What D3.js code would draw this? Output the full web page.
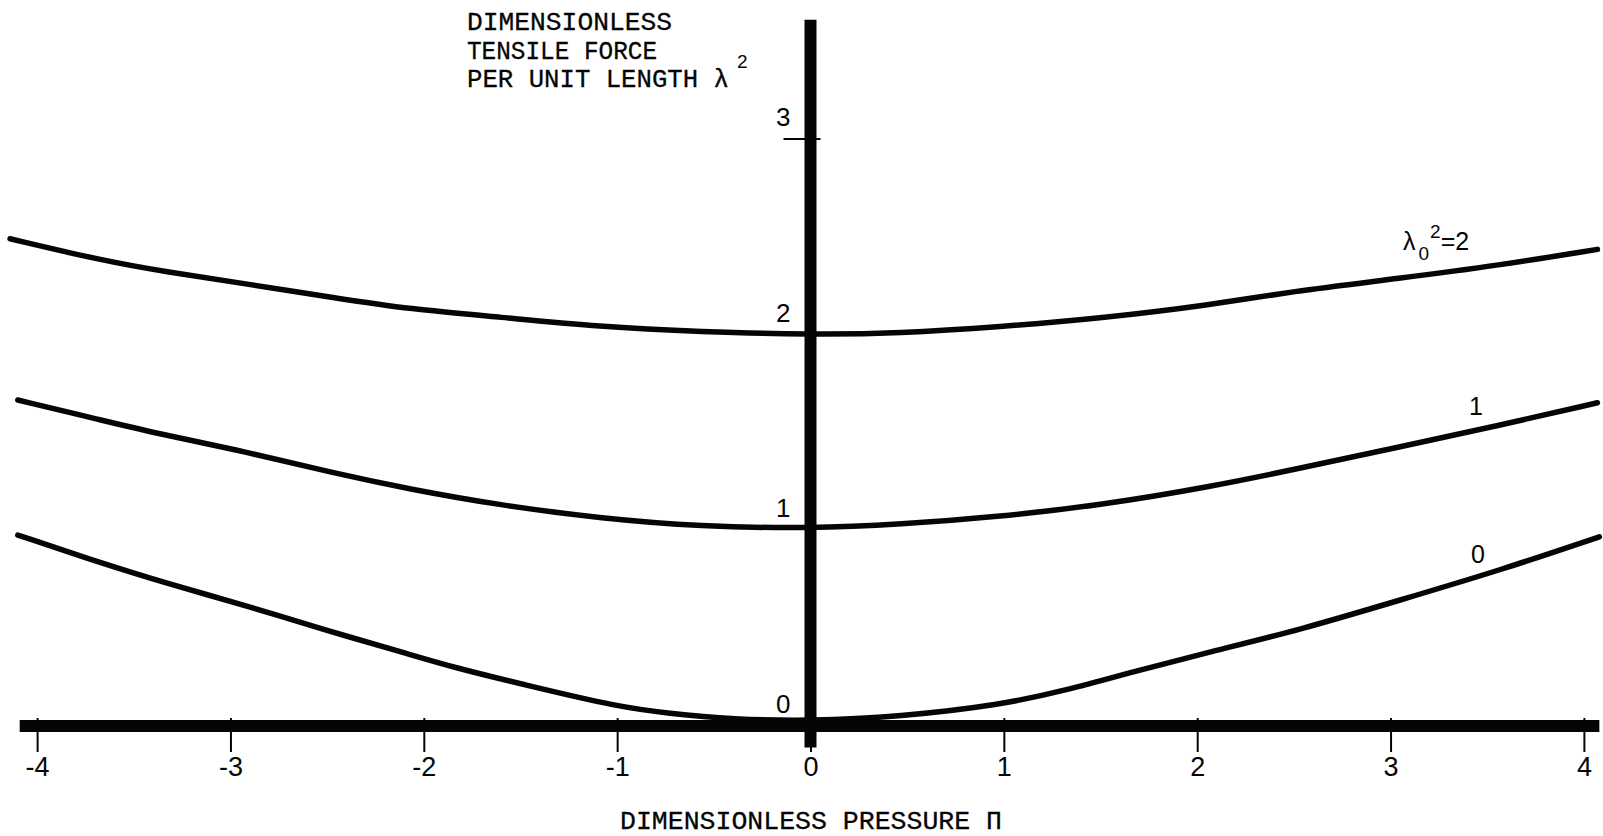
<!DOCTYPE html>
<html>
<head>
<meta charset="utf-8">
<script src="https://cdn.jsdelivr.net/npm/d3@7"></script>
<style>
  html, body { margin: 0; padding: 0; background: #fff; }
  svg { display: block; }
</style>
</head>
<body>
<svg id="chart" width="1603" height="836"></svg>
<script>
// ---- data ----
const xTicks = [-4, -3, -2, -1, 0, 1, 2, 3, 4];
const yTickLabels = [0, 1, 2, 3];
const yMarkedTick = [3];

const pressure2 = [-4.14, -3.67, -3.33, -2.92, -2.47, -2.07, -1.61, -1.09, -0.57, 0, 0.46, 0.98, 1.50, 2.07, 2.48, 3.05, 3.57, 4.07];
const tension2  = [2.49, 2.38, 2.32, 2.26, 2.19, 2.13, 2.09, 2.04, 2.015, 2.00, 2.007, 2.04, 2.084, 2.152, 2.22, 2.288, 2.356, 2.436];

const pressure1 = [-4.10, -3.67, -3.39, -2.92, -2.47, -2.07, -1.61, -1.09, -0.57, 0, 0.46, 0.98, 1.50, 2.07, 2.53, 3.05, 3.57, 4.07];
const tension1  = [1.666, 1.564, 1.497, 1.402, 1.293, 1.210, 1.129, 1.062, 1.019, 1.01, 1.03, 1.07, 1.129, 1.223, 1.317, 1.427, 1.538, 1.652];

const pressure0 = [-4.10, -3.69, -3.33, -2.90, -2.54, -2.07, -1.86, -1.44, -1.00, -0.74, -0.40, 0, 0.46, 0.98, 1.33, 1.67, 2.07, 2.53, 3.05, 3.57, 4.08];
const tension0  = [0.976, 0.840, 0.729, 0.610, 0.499, 0.365, 0.303, 0.201, 0.099, 0.065, 0.034, 0.025, 0.048, 0.107, 0.184, 0.278, 0.380, 0.491, 0.644, 0.797, 0.967];

const xAxisExtent = [-4.09, 4.08];
const yAxisExtent = [-0.11, 3.61];

// ---- drawing ----
const svg = d3.select("#chart");
const x = d3.scaleLinear().domain([-4, 4]).range([37.1, 1583.9]);
const y = d3.scaleLinear().domain([0, 3]).range([726, 139]);

const ink = "#050505";
const sans = "'Liberation Sans', Arial, sans-serif";
const mono = "'Liberation Mono', 'Courier New', monospace";

// curves
const line = d3.line().x(d => x(d[0])).y(d => y(d[1])).curve(d3.curveBasis);
const series = [
  d3.zip(pressure2, tension2),
  d3.zip(pressure1, tension1),
  d3.zip(pressure0, tension0)
];
svg.append("g").selectAll("path").data(series).join("path")
  .attr("d", line)
  .attr("fill", "none")
  .attr("stroke", ink)
  .attr("stroke-width", 5.5)
  .attr("stroke-linecap", "round")
  .attr("stroke-linejoin", "round");

// x-axis ticks and labels
const xAxis = d3.axisBottom(x).tickValues(xTicks).tickSize(34).tickPadding(5).tickFormat(d => d < 0 ? "-" + Math.abs(d) : String(d));
const gx = svg.append("g").attr("transform", `translate(0,${y(0) - 8})`).call(xAxis);
gx.select(".domain").remove();
gx.selectAll(".tick line").attr("stroke", ink).attr("stroke-width", 2);
gx.selectAll(".tick text").attr("fill", ink).attr("font-family", sans).attr("font-size", 27);

// thick horizontal axis
svg.append("line")
  .attr("x1", x(xAxisExtent[0])).attr("x2", x(xAxisExtent[1]))
  .attr("y1", y(0)).attr("y2", y(0))
  .attr("stroke", ink).attr("stroke-width", 12);

// thick vertical axis
svg.append("line")
  .attr("x1", x(0)).attr("x2", x(0))
  .attr("y1", y(yAxisExtent[1])).attr("y2", y(yAxisExtent[0]))
  .attr("stroke", ink).attr("stroke-width", 12);

// y tick mark at 3
svg.append("g").selectAll("line").data(yMarkedTick).join("line")
  .attr("x1", x(0) - 27).attr("x2", x(0) + 10)
  .attr("y1", d => y(d)).attr("y2", d => y(d))
  .attr("stroke", ink).attr("stroke-width", 2);

// y tick labels
svg.append("g").selectAll("text").data(yTickLabels).join("text")
  .attr("x", x(0) - 20)
  .attr("y", d => y(d) - 13)
  .attr("text-anchor", "end")
  .attr("font-family", sans).attr("font-size", 26).attr("fill", ink)
  .text(d => d);

// y-axis title
const ty = svg.append("g").attr("font-family", mono).attr("font-size", 26).attr("fill", ink)
  .attr("stroke", ink).attr("stroke-width", 0.3);
ty.append("text").attr("x", 467).attr("y", 30).attr("textLength", 205).attr("lengthAdjust", "spacingAndGlyphs").text("DIMENSIONLESS");
ty.append("text").attr("x", 467).attr("y", 58.5).attr("textLength", 190).attr("lengthAdjust", "spacingAndGlyphs").text("TENSILE FORCE");
ty.append("text").attr("x", 467).attr("y", 87).attr("textLength", 262).attr("lengthAdjust", "spacingAndGlyphs").text("PER UNIT LENGTH λ");
ty.append("text").attr("x", 737).attr("y", 68).attr("font-family", sans).attr("font-size", 19).attr("stroke-width", 0).text("2");

// x-axis title
svg.append("text").attr("x", 620).attr("y", 828.5)
  .attr("font-family", mono).attr("font-size", 26).attr("fill", ink)
  .attr("stroke", ink).attr("stroke-width", 0.3)
  .attr("textLength", 382).attr("lengthAdjust", "spacingAndGlyphs")
  .text("DIMENSIONLESS PRESSURE Π");

// curve labels
const lab = svg.append("g").attr("font-family", sans).attr("fill", ink);
const l2 = lab.append("text").attr("x", 1403).attr("y", 250).attr("font-size", 25);
l2.append("tspan").text("λ");
l2.append("tspan").attr("font-size", 19).attr("dx", 3).attr("dy", 10).text("0");
l2.append("tspan").attr("font-size", 19).attr("dx", 1).attr("dy", -22).text("2");
l2.append("tspan").attr("dy", 12).text("=2");
lab.append("text").attr("x", 1469).attr("y", 415).attr("font-size", 25).text("1");
lab.append("text").attr("x", 1471).attr("y", 563).attr("font-size", 25).text("0");
</script>
</body>
</html>
